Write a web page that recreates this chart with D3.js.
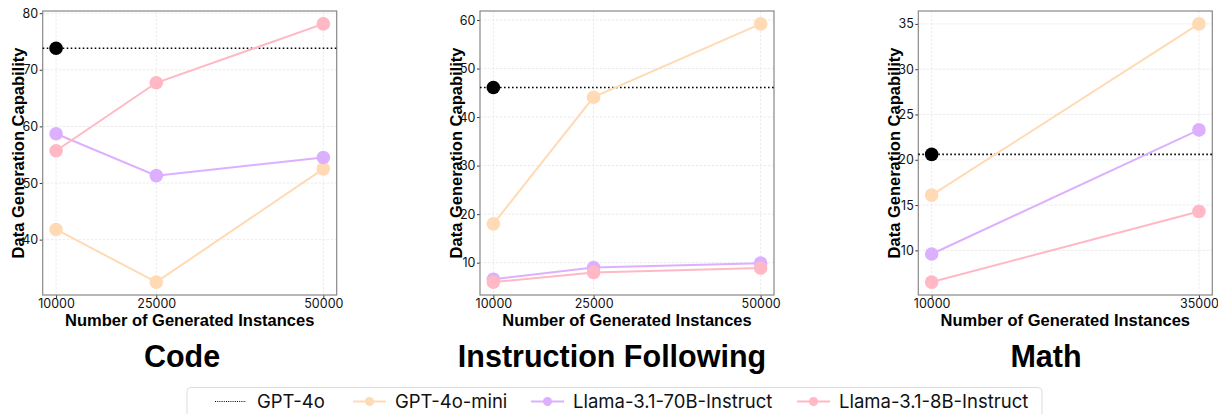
<!DOCTYPE html>
<html>
<head>
<meta charset="utf-8">
<script src="https://cdn.jsdelivr.net/npm/d3@7"></script>
<style>
  body { margin: 0; background: #fff; }
  svg { display: block; }
</style>
</head>
<body>
<svg id="chart" width="1218" height="414"></svg>
<script>
// ---------- data ----------
const panelNames = ["Code", "Instruction Following", "Math"];
const seriesNames = ["GPT-4o", "GPT-4o-mini", "Llama-3.1-70B-Instruct", "Llama-3.1-8B-Instruct"];
const seriesColors = ["#000000", "#FFDAB5", "#DCB0FF", "#FFB8C4"];

const codeX = [10000, 25000, 50000];
const codeGpt4o = 73.8;
const codeMini = [41.8, 32.5, 52.5];
const code70B = [58.7, 51.3, 54.5];
const code8B = [55.7, 67.7, 78.1];
const codeYTicks = [40, 50, 60, 70, 80];

const instrX = [10000, 25000, 50000];
const instrGpt4o = 46.1;
const instrMini = [18.0, 44.1, 59.2];
const instr70B = [6.6, 9.0, 9.9];
const instr8B = [6.0, 8.0, 8.9];
const instrYTicks = [10, 20, 30, 40, 50, 60];

const mathX = [10000, 35000];
const mathGpt4o = 20.6;
const mathMini = [16.1, 35.0];
const math70B = [9.6, 23.3];
const math8B = [6.5, 14.3];
const mathYTicks = [10, 15, 20, 25, 30, 35];

const xLabel = "Number of Generated Instances";
const yLabel = "Data Generation Capability";

// ---------- layout ----------
const panels = [
  { name: panelNames[0], x: codeX, gpt: codeGpt4o, series: [codeMini, code70B, code8B], yTicks: codeYTicks,
    left: 42.7, titleX: 182 },
  { name: panelNames[1], x: instrX, gpt: instrGpt4o, series: [instrMini, instr70B, instr8B], yTicks: instrYTicks,
    left: 480, titleX: 612 },
  { name: panelNames[2], x: mathX, gpt: mathGpt4o, series: [mathMini, math70B, math8B], yTicks: mathYTicks,
    left: 918.3, titleX: 1046 }
];
const plotW = 294, plotTop = 11, plotBottom = 295;
const labelFont = "'Liberation Sans', Arial, sans-serif";
const tickFont = "Inter, 'Liberation Sans', sans-serif";
const svg = d3.select("#chart");

function padded(ext) {
  const r = ext[1] - ext[0];
  return [ext[0] - 0.05 * r, ext[1] + 0.05 * r];
}

panels.forEach(p => {
  const allY = p.series.flat().concat([p.gpt]);
  const x = d3.scaleLinear().domain(padded(d3.extent(p.x))).range([p.left, p.left + plotW]);
  const y = d3.scaleLinear().domain(padded(d3.extent(allY))).range([plotBottom, plotTop]);
  const g = svg.append("g");

  // grid
  g.append("g").selectAll("line").data(p.yTicks).join("line")
    .attr("x1", p.left).attr("x2", p.left + plotW)
    .attr("y1", d => y(d)).attr("y2", d => y(d))
    .attr("stroke", "#e6e6e6").attr("stroke-width", 0.8).attr("stroke-dasharray", "2.5,1.5");
  g.append("g").selectAll("line").data(p.x).join("line")
    .attr("y1", plotTop).attr("y2", plotBottom)
    .attr("x1", d => x(d)).attr("x2", d => x(d))
    .attr("stroke", "#e6e6e6").attr("stroke-width", 0.8).attr("stroke-dasharray", "2.5,1.5");

  // axes
  const xAxis = d3.axisBottom(x).tickValues(p.x).tickFormat(d3.format("d")).tickSize(3.5).tickPadding(1);
  const yAxis = d3.axisLeft(y).tickValues(p.yTicks).tickFormat(d3.format("d")).tickSize(3).tickPadding(1.5);
  const gx = g.append("g").attr("transform", `translate(0,${plotBottom})`).call(xAxis);
  const gy = g.append("g").attr("transform", `translate(${p.left},0)`).call(yAxis);
  [gx, gy].forEach(a => {
    a.select(".domain").remove();
    a.selectAll(".tick line").attr("stroke", "#222").attr("stroke-width", 0.9);
    a.selectAll(".tick text").attr("font-family", tickFont).attr("font-size", 12.5).attr("fill", "#111");
  });

  // frame
  g.append("rect").attr("x", p.left).attr("y", plotTop).attr("width", plotW).attr("height", plotBottom - plotTop)
    .attr("fill", "none").attr("stroke", "#888").attr("stroke-width", 1.2);

  // GPT-4o reference line
  g.append("line").attr("x1", p.left).attr("x2", p.left + plotW)
    .attr("y1", y(p.gpt)).attr("y2", y(p.gpt))
    .attr("stroke", "#000").attr("stroke-width", 1.6).attr("stroke-dasharray", "1.6,2.4");
  g.append("circle").attr("cx", x(p.x[0])).attr("cy", y(p.gpt)).attr("r", 6.8).attr("fill", "#000");

  // series
  const line = d3.line().x((d, i) => x(p.x[i])).y(d => y(d));
  p.series.forEach((vals, si) => {
    const c = seriesColors[si + 1];
    g.append("path").datum(vals).attr("d", line).attr("fill", "none")
      .attr("stroke", c).attr("stroke-width", 2);
    g.append("g").selectAll("circle").data(vals).join("circle")
      .attr("cx", (d, i) => x(p.x[i])).attr("cy", d => y(d)).attr("r", 6.8).attr("fill", c);
  });

  // axis labels
  g.append("text").attr("x", p.left + plotW / 2).attr("y", 326)
    .attr("text-anchor", "middle").attr("font-family", labelFont).attr("font-weight", "bold")
    .attr("font-size", 16.5).attr("fill", "#000").text(xLabel);
  g.append("text").attr("transform", `translate(${p.left - 18.5},${(plotTop + plotBottom) / 2}) rotate(-90)`)
    .attr("text-anchor", "middle").attr("font-family", labelFont).attr("font-weight", "bold")
    .attr("font-size", 16.5).attr("fill", "#000").text(yLabel);

  // title
  g.append("text").attr("x", p.titleX).attr("y", 367).attr("text-anchor", "middle")
    .attr("font-family", labelFont).attr("font-weight", "bold").attr("font-size", 30.5)
    .attr("fill", "#000").text(p.name);
});

// ---------- legend ----------
const legendX = [215, 353, 531, 797];
const lg = svg.append("g");
lg.append("rect").attr("x", 187).attr("y", 387.5).attr("width", 855).attr("height", 40).attr("rx", 4)
  .attr("fill", "#fff").attr("stroke", "#dcdcdc").attr("stroke-width", 1);
seriesNames.forEach((name, i) => {
  const x0 = legendX[i], yy = 401.5;
  const item = lg.append("g");
  if (i === 0) {
    item.append("line").attr("x1", x0).attr("x2", x0 + 31).attr("y1", yy).attr("y2", yy)
      .attr("stroke", "#000").attr("stroke-width", 1.2).attr("stroke-dasharray", "1,1.2");
  } else {
    item.append("line").attr("x1", x0).attr("x2", x0 + 33).attr("y1", yy).attr("y2", yy)
      .attr("stroke", seriesColors[i]).attr("stroke-width", 2);
    item.append("circle").attr("cx", x0 + 16.5).attr("cy", yy).attr("r", 4.5).attr("fill", seriesColors[i]);
  }
  item.append("text").attr("x", x0 + 42).attr("y", 408).attr("font-family", "Inter, 'Noto Sans', sans-serif")
    .attr("font-size", 18.5).attr("fill", "#111").text(name);
});
</script>
</body>
</html>
